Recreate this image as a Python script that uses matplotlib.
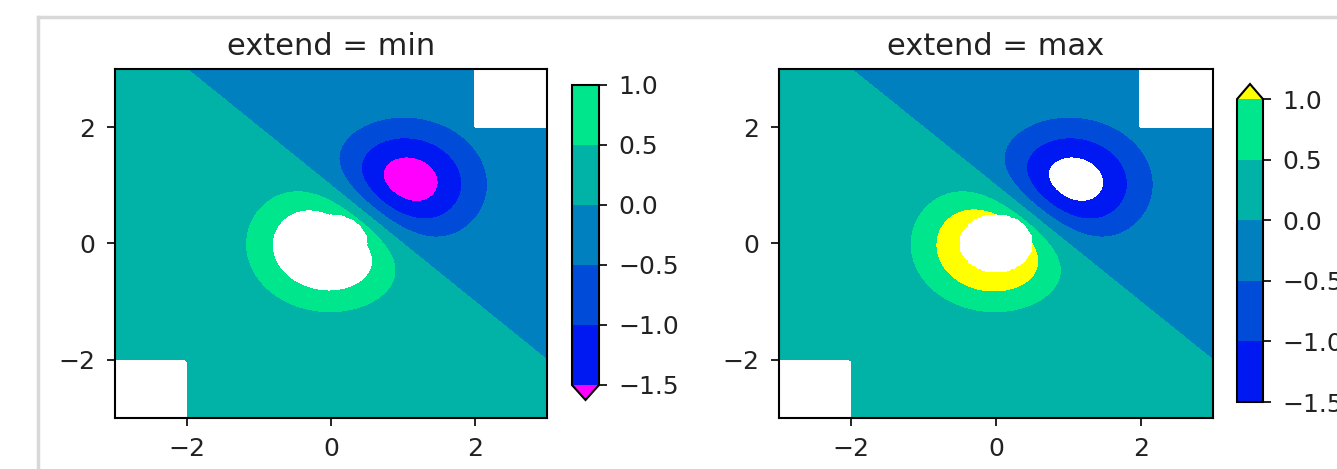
import numpy as np
import matplotlib.pyplot as plt
from matplotlib.lines import Line2D

# field: two gaussian bumps of opposite sign, scaled by 2
grid_step = 0.025
bump_centres = [(0.0, 0.0), (1.0, 1.0)]
bump_signs = [1.0, -1.0]
amplitude = 2.0
hole_radius = 0.5

levels = [-1.5, -1, -0.5, 0, 0.5, 1]
extends = ['min', 'max']
ticks = [-2, 0, 2]
cbar_ticks = [-1.5, -1.0, -0.5, 0.0, 0.5, 1.0]

x = y = np.arange(-3.0, 3.01, grid_step)
X, Y = np.meshgrid(x, y)
Z = np.zeros_like(X)
for (cx, cy), s in zip(bump_centres, bump_signs):
    Z += s * np.exp(-(X - cx)**2 - (Y - cy)**2)
Z = Z * amplitude
nr, nc = Z.shape
Z[-nr // 6:, -nc // 6:] = np.nan
Z = np.ma.array(Z)
Z[:nr // 6, :nc // 6] = np.ma.masked
Z[np.sqrt(X**2 + Y**2) < hole_radius] = np.ma.masked

cmap = plt.colormaps['winter'].with_extremes(under='magenta', over='yellow')

W, H = 1337, 469
fig = plt.figure(figsize=(W / 100, H / 100), dpi=100)

ax_boxes = [[115, 69, 432, 349], [779, 69, 434, 349]]
cb_boxes = [[572, 85, 27, 315], [1237, 84, 26, 318]]

def to_fig(box):
    l, t, w, h = box
    return [l / W, 1 - (t + h) / H, w / W, h / H]

for i, extend in enumerate(extends):
    ax = fig.add_axes(to_fig(ax_boxes[i]))
    cax = fig.add_axes(to_fig(cb_boxes[i]))
    cs = ax.contourf(X, Y, Z, levels, cmap=cmap, extend=extend)
    cb = fig.colorbar(cs, cax=cax)
    cb.set_ticks(cbar_ticks)
    cb.outline.set_linewidth(1.5)
    cax.tick_params(labelsize=18, length=6, width=1.4, pad=8, colors='#222222')
    ax.set_title('extend = %s' % extend, fontsize=22, pad=10, color='#222222')
    ax.set_xticks(ticks)
    ax.set_yticks(ticks)
    ax.tick_params(labelsize=18, length=6, width=1.4, pad=8, colors='#222222')
    for sp in ax.spines.values():
        sp.set_linewidth(1.5)

# faint frame of the screenshot
fig.add_artist(Line2D([38 / W, 1], [1 - 17 / H] * 2, transform=fig.transFigure,
                      color='#d8d8d8', lw=2.5))
fig.add_artist(Line2D([38 / W] * 2, [0, 1 - 17 / H], transform=fig.transFigure,
                      color='#d8d8d8', lw=2.5))

fig.savefig('out.png', dpi=100)
